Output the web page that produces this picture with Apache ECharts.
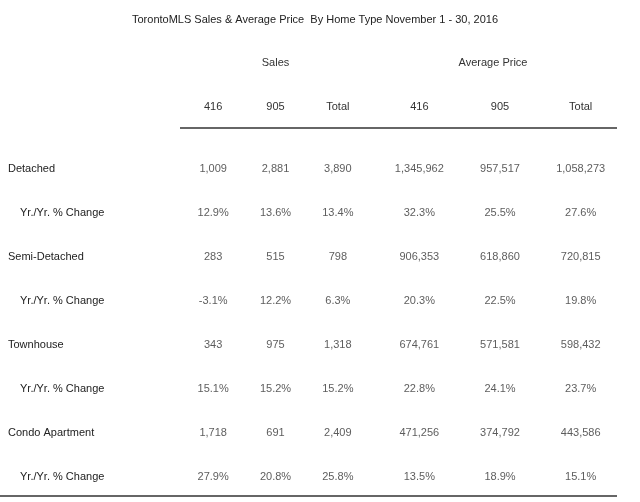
<!DOCTYPE html>
<html>
<head>
<meta charset="UTF-8">
<title>TorontoMLS Sales & Average Price</title>
<script src="https://cdn.jsdelivr.net/npm/echarts@6/dist/echarts.min.js"></script>
<style>
  html, body { margin: 0; padding: 0; background: #fff; }
  #main { width: 640px; height: 502px; }
</style>
</head>
<body>
<div id="main"></div>
<script>
// 表格数据
var homeTypes = ['Detached', 'Semi-Detached', 'Townhouse', 'Condo Apartment'];
var changeLabel = 'Yr./Yr. % Change';
var salesCols = ['416', '905', 'Total'];
var priceCols = ['416', '905', 'Total'];

var sales416 = [1009, 283, 343, 1718];
var sales905 = [2881, 515, 975, 691];
var salesTotal = [3890, 798, 1318, 2409];
var salesChg416 = [12.9, -3.1, 15.1, 27.9];
var salesChg905 = [13.6, 12.2, 15.2, 20.8];
var salesChgTotal = [13.4, 6.3, 15.2, 25.8];

var price416 = [1345962, 906353, 674761, 471256];
var price905 = [957517, 618860, 571581, 374792];
var priceTotal = [1058273, 720815, 598432, 443586];
var priceChg416 = [32.3, 20.3, 22.8, 13.5];
var priceChg905 = [25.5, 22.5, 24.1, 18.9];
var priceChgTotal = [27.6, 19.8, 23.7, 15.1];

var FONT = 'Liberation Sans';

// 行名: 类型 + 同比
var rowNames = [];
homeTypes.forEach(function (t) { rowNames.push(t); rowNames.push(changeLabel); });

function cells(cols, chgCols) {
  var out = [];
  cols.forEach(function (col, c) {
    col.forEach(function (v, i) {
      out.push([c, i * 2, v, 'n']);
      out.push([c, i * 2 + 1, chgCols[c][i], 'p']);
    });
  });
  return out;
}
function fmt(p) {
  var v = p.value[2];
  if (p.value[3] === 'p') return v.toFixed(1) + '%';
  return v.toLocaleString('en-US');
}

var salesData = cells([sales416, sales905, salesTotal], [salesChg416, salesChg905, salesChgTotal]);
var priceData = cells([price416, price905, priceTotal], [priceChg416, priceChg905, priceChgTotal]);

var myChart = echarts.init(document.getElementById('main'));

var labelStyle = { show: true, position: 'inside', formatter: fmt, color: '#333', fontFamily: FONT, fontSize: 11 };

var option = {
  backgroundColor: '#fff',
  animation: false,
  title: {
    text: 'TorontoMLS Sales & Average Price  By Home Type November 1 - 30, 2016',
    left: 310, top: 9, textAlign: 'center',
    textStyle: { fontFamily: FONT, fontSize: 11, fontWeight: 'normal', color: '#222' }
  },
  grid: [
    { left: 182, width: 187, top: 147, height: 352 },
    { left: 379, width: 242, top: 147, height: 352 }
  ],
  xAxis: [
    {
      gridIndex: 0, type: 'category', data: salesCols, position: 'top',
      axisLine: { show: false }, axisTick: { show: false }, splitLine: { show: false },
      axisLabel: { margin: 35, color: '#333', fontFamily: FONT, fontSize: 11 },
      name: 'Sales', nameLocation: 'middle', nameGap: 79,
      nameTextStyle: { color: '#333', fontFamily: FONT, fontSize: 11 }
    },
    {
      gridIndex: 1, type: 'category', data: priceCols, position: 'top',
      axisLine: { show: false }, axisTick: { show: false }, splitLine: { show: false },
      axisLabel: { margin: 35, color: '#333', fontFamily: FONT, fontSize: 11 },
      name: 'Average Price', nameLocation: 'middle', nameGap: 79,
      nameTextStyle: { color: '#333', fontFamily: FONT, fontSize: 11, padding: [0, 14, 0, 0] }
    }
  ],
  yAxis: [
    {
      gridIndex: 0, type: 'category', data: rowNames, inverse: true,
      axisLine: { show: false }, axisTick: { show: false }, splitLine: { show: false },
      axisLabel: {
        margin: 174, align: 'left', color: '#222', fontFamily: FONT, fontSize: 11,
        formatter: function (v, i) { return i % 2 ? '{c|' + v + '}' : v; },
        rich: { c: { padding: [0, 0, 0, 12], color: '#222', fontFamily: FONT, fontSize: 11 } }
      }
    },
    {
      gridIndex: 1, type: 'category', data: rowNames, inverse: true, show: false
    }
  ],
  series: [
    { type: 'scatter', xAxisIndex: 0, yAxisIndex: 0, symbolSize: 0, data: salesData, label: labelStyle, silent: true },
    { type: 'scatter', xAxisIndex: 1, yAxisIndex: 1, symbolSize: 0, data: priceData, label: labelStyle, silent: true }
  ],
  graphic: [
    { type: 'line', shape: { x1: 180, y1: 128, x2: 617, y2: 128 }, style: { stroke: '#333', lineWidth: 1.5 } },
    { type: 'line', shape: { x1: 0, y1: 496, x2: 617, y2: 496 }, style: { stroke: '#333', lineWidth: 1.5 } }
  ]
};

myChart.setOption(option);
</script>
</body>
</html>
